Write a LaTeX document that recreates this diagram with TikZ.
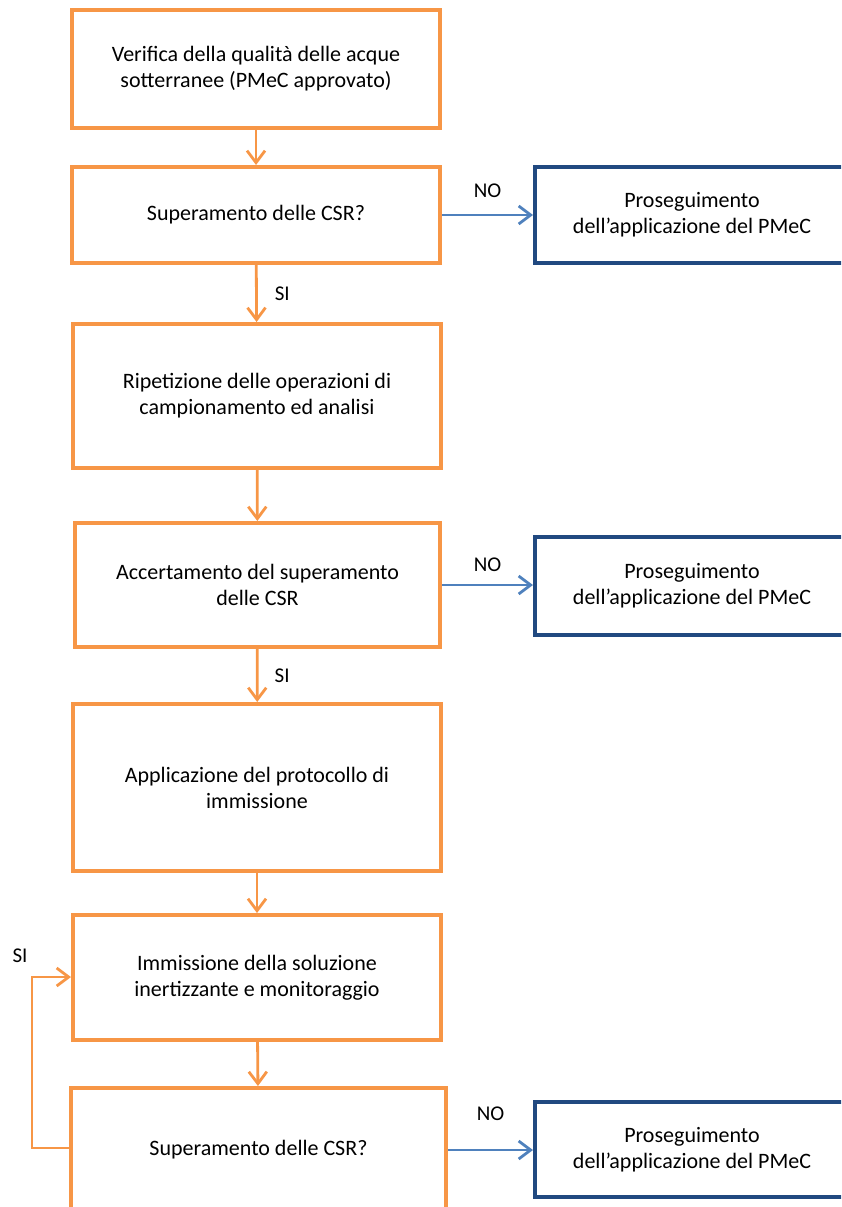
\documentclass[tikz,border=0pt]{standalone}
\usepackage{fontspec}
\setmainfont{Carlito}
\usetikzlibrary{arrows.meta, positioning}
\definecolor{stepcolor}{RGB}{247,150,70}
\definecolor{exitcolor}{RGB}{33,73,128}
\definecolor{nocolor}{RGB}{79,129,189}

\begin{document}
\begin{tikzpicture}[
    x=1pt, y=-1pt,
    stepbox/.style={draw=stepcolor, line width=4pt, fill=white, minimum width=368pt, align=center, font=\fontsize{22}{26}\selectfont, inner sep=0pt},
    exitbox/.style={draw=exitcolor, line width=4pt, fill=white, minimum width=314pt, minimum height=96pt, align=center, font=\fontsize{22}{26}\selectfont, inner sep=0pt},
    flow/.style={-{Straight Barb[length=12pt, width=18pt, line width=2.8pt]}, line width=2.8pt, stepcolor},
    noflow/.style={-{Straight Barb[length=12pt, width=18pt, line width=2.8pt]}, line width=2.8pt, nocolor},
    lbl/.style={text=black, font=\fontsize{21}{24}\selectfont, inner sep=0pt}
]
    \useasboundingbox (0,0) rectangle (841,1207);
    \clip (0,0) rectangle (841,1207);

    % Main sequence
    \node[stepbox, minimum height=118pt] (verif) at (256,69) {Verifica della qualità delle acque\\sotterranee (PMeC approvato)};
    \node[stepbox, minimum height=96pt] (sup1) at (256,215) {Superamento delle CSR?};
    \node[stepbox, minimum height=144pt] (ripet) at (257,396) {Ripetizione delle operazioni di\\campionamento ed analisi};
    \node[stepbox, minimum width=365pt, minimum height=124pt] (accert) at (257.5,585) {Accertamento del superamento\\delle CSR};
    \node[stepbox, minimum height=167pt] (applic) at (257,787.5) {Applicazione del protocollo di\\immissione};
    \node[stepbox, minimum height=125pt] (immis) at (257,977.5) {Immissione della soluzione\\inertizzante e monitoraggio};
    \node[stepbox, minimum width=375pt, minimum height=124pt] (sup2) at (258.5,1150) {Superamento delle CSR?};

    % Exits
    \node[exitbox] (prosA) at (692,215) {Proseguimento\\dell'applicazione del PMeC};
    \node[exitbox, minimum height=98pt] (prosB) at (692,586) {Proseguimento\\dell'applicazione del PMeC};
    \node[exitbox, minimum height=95pt] (prosC) at (692,1149.5) {Proseguimento\\dell'applicazione del PMeC};

    % Connectors
    \draw[flow] (verif) -- (sup1);
    \draw[flow] (sup1) -- node[lbl, right=17pt] {SI} (ripet);
    \draw[flow] (ripet) -- (accert);
    \draw[flow] (accert) -- node[lbl, right=16pt] {SI} (applic);
    \draw[flow] (applic) -- (immis);
    \draw[flow] (immis) -- (sup2);
    \draw[noflow] (sup1.east) -- node[lbl, above=16pt] {NO} (prosA.west |- sup1.east);
    \draw[noflow] (accert.east) -- node[lbl, above=12pt] {NO} (prosB.west |- accert.east);
    \draw[noflow] (sup2.east) -- node[lbl, above=28pt] {NO} (prosC.west |- sup2.east);

    % Loop back
    \coordinate (loopb) at (32,1148);
    \coordinate (loopt) at (32,977);
    \draw[flow] (sup2.west |- loopb) -- (loopb) -- (loopt) -- (immis.west |- loopt);
    \node[lbl] (si) at (20,956) {SI};
\end{tikzpicture}
\end{document}
